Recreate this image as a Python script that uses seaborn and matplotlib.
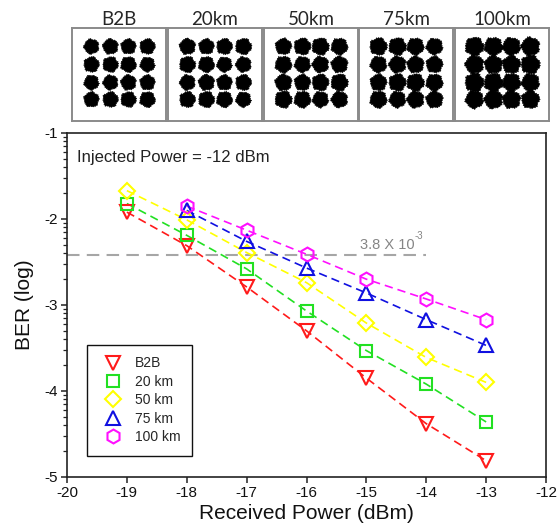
import numpy as np
import pandas as pd
import matplotlib
matplotlib.use("Agg")
import matplotlib.pyplot as plt
from matplotlib.lines import Line2D
from matplotlib.ticker import FixedLocator
import seaborn as sns

# ---- BER measurements (log10 BER) vs received optical power ----
received_power = [-19, -18, -17, -16, -15, -14, -13]
ber_b2b = [-1.92, -2.31, -2.79, -3.30, -3.85, -4.38, -4.81]
ber_20km = [-1.82, -2.19, -2.58, -3.07, -3.53, -3.92, -4.36]
ber_50km = [-1.67, -2.01, -2.39, -2.74, -3.21, -3.61, -3.90]
power_long = [-18, -17, -16, -15, -14, -13]
ber_75km = [-1.90, -2.26, -2.57, -2.86, -3.17, -3.47]
ber_100km = [-1.85, -2.13, -2.41, -2.70, -2.93, -3.17]

series_labels = ["B2B", "20 km", "50 km", "75 km", "100 km"]
fec_limit = 3.8e-3

# ---- 16-QAM constellation panels ----
panel_titles = ["B2B", "20km", "50km", "75km", "100km"]
qam_levels = [-3, -1, 1, 3]
cluster_diam_px = [16.5, 17.0, 18.0, 18.5, 20.0]

sns.set_theme(style="white")
plt.rcParams["font.family"] = ["Liberation Sans", "DejaVu Sans"]
plt.rcParams["axes.unicode_minus"] = False

W, H = 560, 531
fig = plt.figure(figsize=(W / 100, H / 100), dpi=100)


def px_axes(x0, y0, x1, y1):
    return fig.add_axes([x0 / W, 1 - y1 / H, (x1 - x0) / W, (y1 - y0) / H])


# irregular blob outline used for each constellation cluster
theta = np.linspace(0, 2 * np.pi, 90, endpoint=False)


def blob_marker(rot):
    r = 1 + 0.06 * np.sin(5 * theta + rot) + 0.04 * np.cos(9 * theta + 2 * rot) \
        + 0.05 * np.sin(23 * theta + 3 * rot) + 0.03 * np.cos(31 * theta + rot)
    return np.column_stack([r * np.cos(theta), r * np.sin(theta)])


panel_left = [72, 168, 264, 359, 455]
panel_w = 94
for i, (title, xl) in enumerate(zip(panel_titles, panel_left)):
    pax = px_axes(xl, 28, xl + panel_w, 121)
    I, Q = np.meshgrid(qam_levels, qam_levels)
    df = pd.DataFrame({"I": I.ravel(), "Q": Q.ravel()})
    ms = cluster_diam_px[i] * 0.72
    for k, row in df.iterrows():
        sns.scatterplot(x=[row.I], y=[row.Q], ax=pax, marker=blob_marker(0.9 * k + i),
                        s=ms ** 2, color="black", edgecolor="black", linewidth=0.4,
                        legend=False)
    pax.set_xlim(-5.0, 5.0)
    pax.set_ylim(-5.5, 5.1)
    pax.set_xticks([])
    pax.set_yticks([])
    pax.set_xlabel("")
    pax.set_ylabel("")
    for sp in pax.spines.values():
        sp.set_color("#8a8a8a")
        sp.set_linewidth(1.4)
    fig.text((xl + panel_w / 2) / W, 1 - 19.5 / H, title, ha="center", va="center",
             fontsize=13.5, family=["Lato", "DejaVu Sans"])

# ---- main BER plot ----
ax = px_axes(67, 133, 546, 477)

styles = [
    (received_power, ber_b2b, "#ff1a1a", "v", 10),
    (received_power, ber_20km, "#22e022", "s", 9),
    (received_power, ber_50km, "#ffff00", "D", 8.2),
    (power_long, ber_75km, "#1010e0", "^", 10),
    (power_long, ber_100km, "#ff10ff", "h", 10),
]

handles = []
for (xs, ys, col, mk, msz), lab in zip(styles, series_labels):
    sns.lineplot(x=xs, y=ys, ax=ax, color=col, linewidth=1.2, dashes=False,
                 legend=False, zorder=2).lines[-1].set_dashes((5, 3))
    ax.plot(xs, ys, linestyle="none", marker=mk, markersize=msz,
            markerfacecolor="none", markeredgecolor=col, markeredgewidth=1.5, zorder=3)
    handles.append(Line2D([], [], linestyle="none", marker=mk, markersize=msz,
                          markerfacecolor="none", markeredgecolor=col,
                          markeredgewidth=1.5, label=lab))

fec_log = np.log10(fec_limit)
ax.plot([-20, -14], [fec_log, fec_log], color="#a6a6a6", linewidth=1.5,
        dashes=(6, 3.5), zorder=1)
ax.text(-14.2, fec_log + 0.04, "3.8 X 10", color="#858585", fontsize=10.5,
        ha="right", va="bottom")
ax.text(-14.19, fec_log + 0.17, "-3", color="#858585", fontsize=7,
        ha="left", va="bottom")

ax.text(-19.83, -1.28, "Injected Power = -12 dBm", fontsize=12, color="#222222",
        ha="left", va="center")

ax.set_xlim(-20, -12)
ax.set_ylim(-5, -1)
ax.set_xticks(range(-20, -11))
ax.set_yticks([-5, -4, -3, -2, -1])
minor = [n + np.log10(k) for n in range(-5, -1) for k in range(2, 10)]
ax.yaxis.set_minor_locator(FixedLocator(minor))
ax.tick_params(axis="both", which="major", direction="out", length=4.3, width=1.1,
               color="#222222", labelsize=11, pad=2, labelcolor="#111111")
ax.tick_params(axis="y", which="minor", direction="out", length=2.8, width=0.9,
               color="#222222", left=True)
ax.tick_params(axis="x", which="both", bottom=True, top=False)
ax.tick_params(axis="y", which="both", left=True, right=False)
for sp in ax.spines.values():
    sp.set_color("#222222")
    sp.set_linewidth(1.2)

ax.set_xlabel("Received Power (dBm)", fontsize=15, labelpad=3, color="#111111")
ax.set_ylabel("BER (log)", fontsize=15, labelpad=8, color="#111111")

leg = ax.legend(handles=handles, loc="lower left", bbox_to_anchor=(0.042, 0.061),
                borderaxespad=0, fontsize=10, frameon=True, fancybox=False,
                edgecolor="#111111", framealpha=1, handlelength=2.0,
                handletextpad=0.6, labelspacing=0.32, borderpad=0.85)
leg.get_frame().set_linewidth(1.0)

fig.savefig("out.png", dpi=100)
